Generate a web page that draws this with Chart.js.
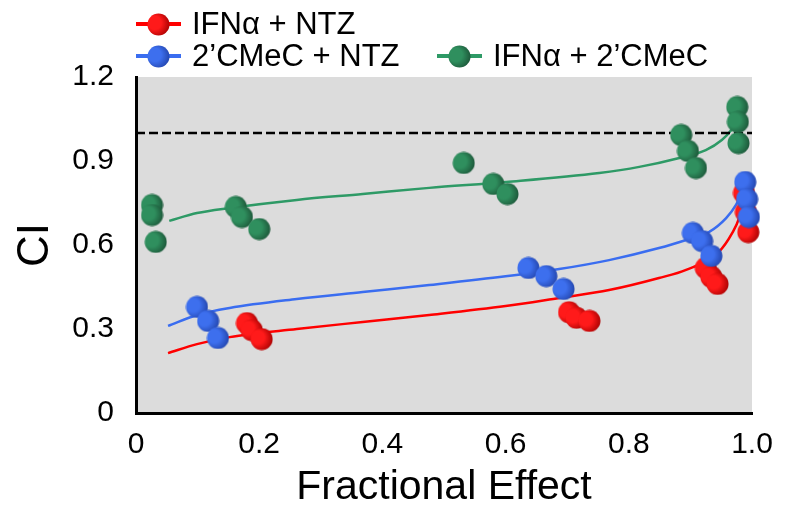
<!DOCTYPE html>
<html>
<head>
<meta charset="utf-8">
<script src="https://cdn.jsdelivr.net/npm/chart.js@4.4.1/dist/chart.umd.min.js"></script>
<style>
  html, body { margin: 0; padding: 0; background: #fff; }
  #wrap { width: 791px; height: 508px; }
</style>
</head>
<body>
<div id="wrap"><canvas id="ciChart" width="791" height="508"></canvas></div>
<script>
// ---- data ----
const seriesNames = ['IFNα + NTZ', '2’CMeC + NTZ', 'IFNα + 2’CMeC'];

const redX = [0.180, 0.188, 0.204, 0.703, 0.715, 0.736, 0.925, 0.934, 0.944, 0.987, 0.990, 0.994];
const redY = [0.321, 0.296, 0.264, 0.360, 0.340, 0.329, 0.518, 0.486, 0.461, 0.786, 0.718, 0.646];

const blueX = [0.099, 0.117, 0.133, 0.637, 0.666, 0.694, 0.904, 0.919, 0.934, 0.989, 0.992, 0.995];
const blueY = [0.379, 0.329, 0.268, 0.518, 0.489, 0.443, 0.643, 0.614, 0.561, 0.825, 0.764, 0.700];

const greenX = [0.026, 0.026, 0.032, 0.162, 0.172, 0.200, 0.532, 0.580, 0.603, 0.885, 0.896, 0.909, 0.976, 0.977, 0.978];
const greenY = [0.743, 0.707, 0.611, 0.736, 0.700, 0.657, 0.893, 0.818, 0.782, 0.993, 0.936, 0.875, 1.093, 1.040, 0.964];

// fitted curves
const redFitX = [0.052, 0.099, 0.152, 0.261, 0.368, 0.476, 0.600, 0.687, 0.768, 0.849, 0.893, 0.946, 0.968, 0.979, 0.986];
const redFitY = [0.214, 0.246, 0.271, 0.300, 0.325, 0.350, 0.382, 0.411, 0.439, 0.482, 0.511, 0.575, 0.643, 0.696, 0.760];

const blueFitX = [0.052, 0.099, 0.152, 0.261, 0.368, 0.476, 0.600, 0.687, 0.768, 0.849, 0.893, 0.930, 0.958, 0.974, 0.986];
const blueFitY = [0.311, 0.350, 0.375, 0.407, 0.432, 0.457, 0.488, 0.514, 0.546, 0.589, 0.618, 0.646, 0.696, 0.743, 0.800];

const greenFitX = [0.054, 0.099, 0.152, 0.261, 0.368, 0.476, 0.601, 0.752, 0.817, 0.882, 0.925, 0.951, 0.966, 0.980];
const greenFitY = [0.686, 0.714, 0.732, 0.761, 0.782, 0.804, 0.825, 0.857, 0.879, 0.911, 0.939, 0.975, 1.010, 1.060];

const refX = [0, 1];
const refY = [1, 1];

const xTicks = ['0', '0.2', '0.4', '0.6', '0.8', '1.0'];
const yTicks = ['0', '0.3', '0.6', '0.9', '1.2'];

// ---- helpers ----
function pts(xs, ys) {
    return xs.map((x, i) => ({ x: x, y: ys[i] }));
}

// shaded ball used as point style
function makeBall(light, dark, r) {
    let c = document.createElement('canvas');
    c.width = r * 2 + 1;
    c.height = r * 2 + 1;
    let g = c.getContext('2d');
    let grad = g.createRadialGradient(r * 0.6, r * 0.8, 0, r * 0.8, r, r * 1.35);
    grad.addColorStop(0, light);
    grad.addColorStop(0.45, light);
    grad.addColorStop(1, dark);
    g.fillStyle = grad;
    g.beginPath();
    g.arc(r + 0.5, r + 0.5, r, 0, Math.PI * 2);
    g.fill();
    return c;
}

const lineColors = ['#ff0000', '#3a6df0', '#2e9a66'];
const balls = [
    makeBall('#ff1a1a', '#a30000', 11),
    makeBall('#3d6fee', '#2142a8', 11),
    makeBall('#2f8f5e', '#1b5236', 11)
];

function scatterSet(label, data, ball, order) {
    return {
        label: label,
        data: data,
        showLine: false,
        pointStyle: ball,
        pointRadius: 11,
        pointHoverRadius: 11,
        clip: false,
        order: order
    };
}

function fitSet(data, color) {
    return {
        label: '',
        data: data,
        showLine: true,
        borderColor: color,
        borderWidth: 2.5,
        pointRadius: 0,
        cubicInterpolationMode: 'monotone',
        fill: false,
        clip: false,
        order: 10
    };
}

// ---- plugins ----
const plotBg = {
    id: 'plotBg',
    beforeDraw(chart) {
        let a = chart.chartArea;
        let ctx = chart.ctx;
        ctx.save();
        ctx.fillStyle = '#dcdcdc';
        ctx.fillRect(a.left, a.top, a.right - a.left, a.bottom - a.top);
        ctx.restore();
    }
};

const customLegend = {
    id: 'customLegend',
    afterDraw(chart) {
        let ctx = chart.ctx;
        let items = [
            { x: 136, y: 24, i: 0 },
            { x: 136, y: 56, i: 1 },
            { x: 437, y: 56, i: 2 }
        ];
        ctx.save();
        ctx.font = '31px "Liberation Sans", Arial, sans-serif';
        ctx.textBaseline = 'middle';
        ctx.fillStyle = '#000';
        items.forEach(it => {
            ctx.strokeStyle = lineColors[it.i];
            ctx.lineWidth = 4;
            ctx.beginPath();
            ctx.moveTo(it.x, it.y);
            ctx.lineTo(it.x + 45, it.y);
            ctx.stroke();
            ctx.drawImage(balls[it.i], it.x + 11, it.y - 11);
            ctx.fillText(seriesNames[it.i], it.x + 56, it.y + 1);
        });
        ctx.restore();
    }
};

// ---- chart ----
let ctx = document.getElementById('ciChart').getContext('2d');
let ciChart = new Chart(ctx, {
    type: 'scatter',
    data: {
        datasets: [
            fitSet(pts(redFitX, redFitY), lineColors[0]),
            fitSet(pts(blueFitX, blueFitY), lineColors[1]),
            fitSet(pts(greenFitX, greenFitY), lineColors[2]),
            {
                label: '',
                data: pts(refX, refY),
                showLine: true,
                borderColor: '#000',
                borderWidth: 2.5,
                borderDash: [9, 4],
                pointRadius: 0,
                order: 9
            },
            scatterSet(seriesNames[0], pts(redX, redY), balls[0], 3),
            scatterSet(seriesNames[2], pts(greenX, greenY), balls[2], 2),
            scatterSet(seriesNames[1], pts(blueX, blueY), balls[1], 1)
        ]
    },
    options: {
        responsive: false,
        animation: false,
        layout: { padding: { top: 77, right: 39, left: 0, bottom: 0 } },
        plugins: {
            legend: { display: false },
            tooltip: { enabled: false }
        },
        scales: {
            x: {
                type: 'linear',
                min: 0,
                max: 1,
                afterFit(scale) { scale.height = 95; },
                grid: { display: false, drawTicks: false },
                border: { display: true, color: '#000', width: 3 },
                ticks: {
                    stepSize: 0.2,
                    padding: 14,
                    color: '#000',
                    font: { family: '"Liberation Sans", Arial, sans-serif', size: 30 },
                    callback: (v, i) => xTicks[i]
                },
                title: {
                    display: true,
                    text: 'Fractional Effect',
                    color: '#000',
                    font: { family: '"Liberation Sans", Arial, sans-serif', size: 41, lineHeight: 1 },
                    padding: { top: 0, bottom: 0 }
                }
            },
            y: {
                type: 'linear',
                min: 0,
                max: 1.2,
                afterFit(scale) { scale.width = 136; },
                grid: { display: false, drawTicks: false },
                border: { display: true, color: '#000', width: 3 },
                ticks: {
                    stepSize: 0.3,
                    padding: 22,
                    color: '#000',
                    font: { family: '"Liberation Sans", Arial, sans-serif', size: 30 },
                    callback: (v, i) => yTicks[i]
                },
                title: {
                    display: true,
                    text: 'CI',
                    color: '#000',
                    font: { family: '"Liberation Sans", Arial, sans-serif', size: 44, lineHeight: 1 },
                    padding: { top: 14, bottom: 0 }
                }
            }
        }
    },
    plugins: [plotBg, customLegend]
});
</script>
</body>
</html>
